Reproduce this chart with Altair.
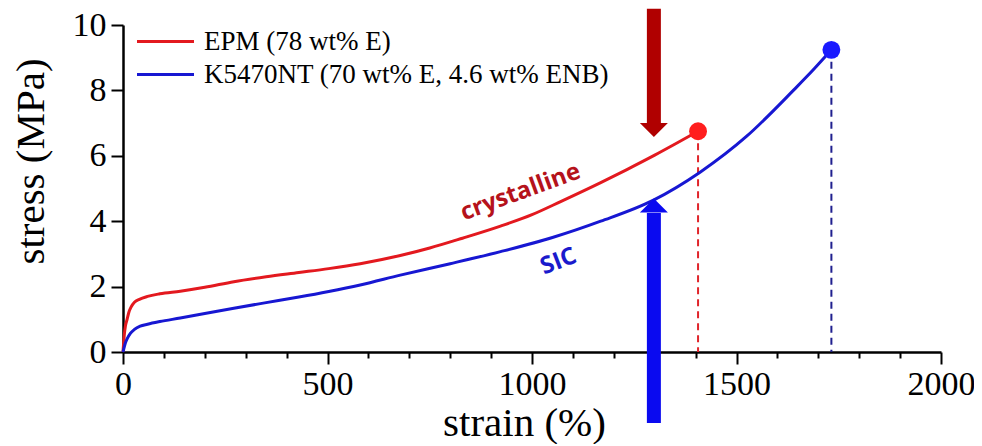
import altair as alt
import pandas as pd

# ---------------- data ----------------
series_names = ["EPM (78 wt% E)", "K5470NT (70 wt% E, 4.6 wt% ENB)"]
series_colors = ["#e3191f", "#1717d2"]

epm_strain = [0, 3, 6, 10, 14, 20, 28, 40, 60, 90, 140, 200, 271, 350, 430, 503,
              580, 678, 750, 830, 923, 1000, 1070, 1168, 1232, 1300, 1350, 1406]
epm_stress = [0, 0.5, 0.8, 1.0, 1.2, 1.38, 1.52, 1.61, 1.7, 1.78, 1.86, 1.98, 2.15,
              2.3, 2.43, 2.55, 2.7, 2.95, 3.18, 3.48, 3.85, 4.2, 4.6, 5.18, 5.58, 6.02, 6.36, 6.75]

k_strain = [0, 3, 6, 10, 18, 28, 42, 60, 90, 140, 200, 271, 350, 430, 503, 580, 678,
            800, 923, 1050, 1168, 1297, 1411, 1525, 1639, 1690, 1732]
k_stress = [0, 0.15, 0.28, 0.4, 0.57, 0.69, 0.79, 0.85, 0.93, 1.04, 1.18, 1.34, 1.51,
            1.68, 1.85, 2.05, 2.35, 2.7, 3.07, 3.5, 4.0, 4.645, 5.5, 6.6, 8.0, 8.66, 9.24]

# break points (end of each curve)
break_strain = [1406, 1732]
break_stress = [6.75, 9.24]
break_dot_colors = ["#ff1e1e", "#1a1aff"]
break_dash_colors = ["#e0242a", "#20208f"]

# arrows: shaft start / shaft end (head base) / head centre, in data units
arrow_strain = [1298, 1298]
arrow_from = [10.5, -2.17]
arrow_to = [7.0, 4.25]
arrow_head = [6.79, 4.48]
arrow_colors = ["#b00000", "#0a0af0"]
arrow_shapes = ["M-1,-0.5L1,-0.5L0,0.5Z", "M-1,0.5L1,0.5L0,-0.5Z"]

# in-plot annotations
note_text = ["crystalline", "SIC"]
note_strain = [972, 1065]
note_stress = [4.88, 2.76]
note_angle = [340, 339]
note_colors = ["#b5121b", "#1a1acc"]

# ---------------- tables ----------------
curves = pd.concat([
    pd.DataFrame({"strain": epm_strain, "stress": epm_stress, "series": series_names[0]}),
    pd.DataFrame({"strain": k_strain, "stress": k_stress, "series": series_names[1]}),
])
breaks = pd.DataFrame({"strain": break_strain, "stress": break_stress,
                       "dot": break_dot_colors, "dash": break_dash_colors})
arrows = pd.DataFrame({"strain": arrow_strain, "y1": arrow_from, "y2": arrow_to,
                       "head": arrow_head, "col": arrow_colors, "shape": arrow_shapes})
notes = pd.DataFrame({"text": note_text, "strain": note_strain, "stress": note_stress,
                      "ang": note_angle, "col": note_colors})

SERIF = "Liberation Serif"

x_scale = alt.Scale(domain=[0, 2000], nice=False, zero=False)
y_scale = alt.Scale(domain=[0, 10], nice=False, zero=False)

x_axis = alt.Axis(
    values=list(range(0, 2001, 100)),
    labelExpr="datum.value % 500 === 0 ? datum.label : ''",
    format="d",
    tickSize={"condition": {"test": "datum.value % 500 === 0", "value": 12}, "value": 6},
    labelFlush=False, labelOverlap=False, labelBound=False,
    labelPadding=3,
    title="strain (%)", titleX=401, titleY=83, titleAlign="center",
    titleBaseline="alphabetic",
)
y_axis = alt.Axis(
    values=list(range(0, 11)),
    labelExpr="datum.value % 2 === 0 ? datum.label : ''",
    format="d",
    tickSize={"condition": {"test": "datum.value % 2 === 0", "value": 12}, "value": 6},
    labelFlush=False, labelOverlap=False, labelBound=False,
    labelPadding=5,
    title="stress (MPa)", titleAngle=270, titleX=-92, titleY=136,
    titleAlign="center", titleBaseline="middle",
)

X = alt.X("strain:Q", scale=x_scale, axis=x_axis)
Y = alt.Y("stress:Q", scale=y_scale, axis=y_axis)

dashes = alt.Chart(breaks).mark_rule(strokeDash=[7, 5], strokeWidth=2).encode(
    x=alt.X("strain:Q", scale=x_scale),
    y=alt.Y("stress:Q", scale=y_scale),
    y2=alt.Y2(datum=0),
    stroke=alt.Stroke("dash:N", scale=None),
)

lines = alt.Chart(curves).mark_line(strokeWidth=3, interpolate="monotone").encode(
    x=X, y=Y,
    color=alt.Color(
        "series:N",
        scale=alt.Scale(domain=series_names, range=series_colors),
        sort=series_names,
        legend=alt.Legend(
            orient="none", legendX=15, legendY=3, title=None, padding=0,
            symbolType="M-4,0L4,0", symbolSize=203, symbolStrokeWidth=3,
            symbolOffset=14, labelOffset=25,
            labelFont=SERIF, labelFontSize=27, labelColor="black", labelLimit=0,
            rowPadding=5,
        ),
    ),
    order="strain:Q",
)

dots = alt.Chart(breaks).mark_circle(size=320, opacity=1).encode(
    x=alt.X("strain:Q", scale=x_scale),
    y=alt.Y("stress:Q", scale=y_scale),
    fill=alt.Fill("dot:N", scale=None),
)

shafts = alt.Chart(arrows).mark_rule(strokeWidth=14).encode(
    x=alt.X("strain:Q", scale=x_scale),
    y=alt.Y("y1:Q", scale=y_scale),
    y2="y2:Q",
    stroke=alt.Stroke("col:N", scale=None),
)

heads = alt.Chart(arrows).mark_point(filled=True, opacity=1, size=784, strokeWidth=0).encode(
    x=alt.X("strain:Q", scale=x_scale),
    y=alt.Y("head:Q", scale=y_scale),
    shape=alt.Shape("shape:N", scale=None),
    fill=alt.Fill("col:N", scale=None),
)

labels = alt.Chart(notes).mark_text(
    font="Open Sans", fontWeight="bold", fontSize=24, align="center", baseline="middle"
).encode(
    x=alt.X("strain:Q", scale=x_scale),
    y=alt.Y("stress:Q", scale=y_scale),
    text="text:N",
    angle=alt.Angle("ang:Q", scale=None),
    fill=alt.Fill("col:N", scale=None),
)

chart = alt.layer(dashes, lines, dots, shafts, heads, labels).properties(
    width=818, height=327, autosize="none", background="white",
    padding={"left": 115, "top": 17, "right": 33, "bottom": 92},
).configure_view(stroke=None).configure_axis(
    grid=False,
    domainColor="black", domainWidth=2.5,
    tickColor="black", tickWidth=2,
    labelFont=SERIF, labelFontSize=34, labelColor="black",
    titleFont=SERIF, titleFontSize=41, titleFontWeight="normal", titleColor="black",
)

chart.save("out.html", embed_options={"renderer": "svg", "actions": False})
